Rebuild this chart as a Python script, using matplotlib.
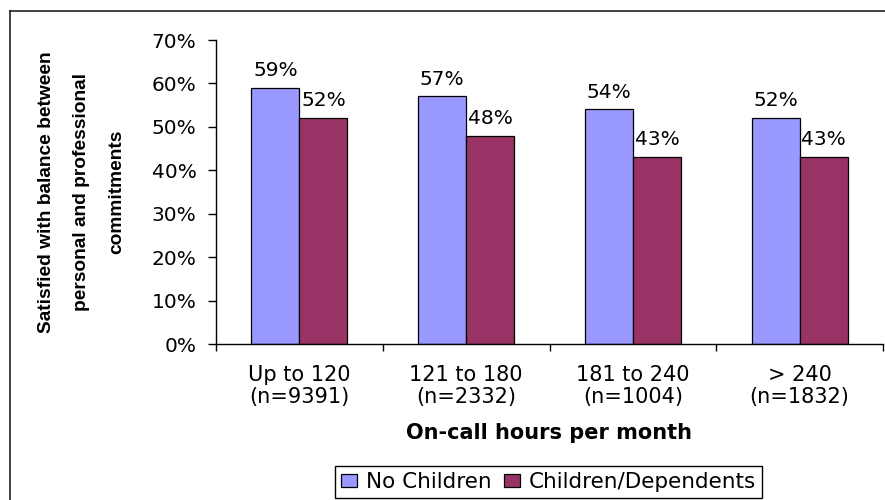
import matplotlib.pyplot as plt
import numpy as np
from matplotlib.lines import Line2D

plt.rcParams['font.family'] = ['DejaVu Sans']

categories = ["Up to 120\n(n=9391)", "121 to 180\n(n=2332)",
              "181 to 240\n(n=1004)", "> 240\n(n=1832)"]
no_children = [59, 57, 54, 52]
children = [52, 48, 43, 43]
yticks = [0, 10, 20, 30, 40, 50, 60, 70]
ylabel_lines = ["Satisfied with balance between",
                "personal and professional",
                "commitments"]

W, H = 885, 500
fig = plt.figure(figsize=(W / 100, H / 100), dpi=100)

# plot area in pixel terms
ax = fig.add_axes([216 / W, 156 / H, 667 / W, 304 / H])

x = np.arange(len(categories))
w = 0.288
b1 = ax.bar(x - w / 2, no_children, w, color='#9999FF', edgecolor='black',
            linewidth=0.9, label='No Children')
b2 = ax.bar(x + w / 2, children, w, color='#993366', edgecolor='black',
            linewidth=0.9, label='Children/Dependents')

for bars, vals in ((b1, no_children), (b2, children)):
    for bar, v in zip(bars, vals):
        ax.annotate(f"{v}%", (bar.get_x() + bar.get_width() / 2, v),
                    xytext=(0, 8.6), textcoords='offset points',
                    ha='center', va='baseline', fontsize=14.5)

ax.set_xlim(-0.5, len(categories) - 0.5)
ax.set_ylim(0, 70)
ax.set_yticks(yticks)
ax.set_yticklabels([f"{v}%" for v in yticks], fontsize=14.5)
ax.tick_params(axis='y', direction='out', length=6, width=1, pad=8)

ax.set_xticks(x)
ax.set_xticklabels(categories, fontsize=15, linespacing=1.16)
ax.set_xticks(np.arange(-0.5, len(categories)), minor=True)
ax.tick_params(axis='x', which='major', length=0, pad=15)
ax.tick_params(axis='x', which='minor', direction='out', length=5, width=1)

for side in ('top', 'right'):
    ax.spines[side].set_visible(False)
for side in ('left', 'bottom'):
    ax.spines[side].set_linewidth(1)

# rotated axis title, one text per line
for px, line in zip((47, 82, 117), ylabel_lines):
    fig.text(px / W, 1 - 192 / H, line, rotation=90, ha='center',
             va='center', fontsize=13.8, fontweight='bold',
             family=['Liberation Sans', 'DejaVu Sans'])

fig.text(549.5 / W, 1 - 439 / H, "On-call hours per month", ha='center',
         va='baseline', fontsize=15, fontweight='bold')

leg = fig.legend(handles=[b1, b2], loc='center',
                 bbox_to_anchor=(548.5 / W, 1 - 482 / H), ncol=2,
                 frameon=True, fancybox=False, edgecolor='black',
                 framealpha=1, fontsize=15.5, handlelength=0.74,
                 handleheight=0.57, handletextpad=0.42, columnspacing=0.56,
                 borderpad=0.27, borderaxespad=0)
leg.get_frame().set_linewidth(1.0)

# outer chart border (left and top edges)
fig.add_artist(Line2D([10 / W, 10 / W], [0, 1 - 10.5 / H],
                      transform=fig.transFigure, color='#222222', lw=1.2))
fig.add_artist(Line2D([10 / W, 1], [1 - 10.5 / H, 1 - 10.5 / H],
                      transform=fig.transFigure, color='#222222', lw=1.2))

fig.savefig('out.png', dpi=100)
